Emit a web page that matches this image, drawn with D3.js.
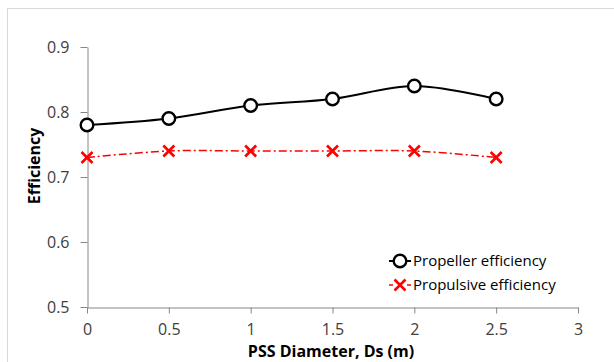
<!DOCTYPE html>
<html><head><meta charset="utf-8">
<script src="https://cdn.jsdelivr.net/npm/d3@7"></script>
<style>
html,body{margin:0;padding:0;background:#fff;}
svg{display:block;font-family:"Open Sans","Liberation Sans",sans-serif;}
</style></head>
<body>
<svg id="c" width="614" height="362"></svg>
<script>
const diameters = [0, 0.5, 1, 1.5, 2, 2.5];
const propellerEff = [0.78, 0.79, 0.81, 0.82, 0.84, 0.82];
const propulsiveEff = [0.73, 0.74, 0.74, 0.74, 0.74, 0.73];
const xTicks = [0, 0.5, 1, 1.5, 2, 2.5, 3];
const yTicks = [0.5, 0.6, 0.7, 0.8, 0.9];
const seriesNames = ["Propeller efficiency", "Propulsive efficiency"];

const svg = d3.select("#c");
// chart frame
svg.append("rect").attr("x", 7.5).attr("y", 8.5).attr("width", 640).attr("height", 400)
  .attr("fill", "none").attr("stroke", "#d9d9d9").attr("stroke-width", 1);

const x = d3.scaleLinear().domain([0, 3]).range([87, 578]);
const y = d3.scaleLinear().domain([0.5, 0.9]).range([307, 47]);

const axisColor = "#868686";
const textColor = "#404040";

const xAxis = svg.append("g").attr("transform", "translate(0,307.5)")
  .call(d3.axisBottom(x).tickValues(xTicks).tickSize(6).tickSizeOuter(0).tickFormat(d3.format("")));
const yAxis = svg.append("g").attr("transform", "translate(87.5,0)")
  .call(d3.axisLeft(y).tickValues(yTicks).tickSize(7).tickSizeOuter(0).tickFormat(d3.format(".1f")));
[xAxis, yAxis].forEach(g => {
  g.select(".domain").attr("stroke", axisColor);
  g.selectAll(".tick line").attr("stroke", axisColor);
  g.selectAll(".tick text").attr("fill", textColor).attr("font-size", 16)
    .attr("font-family", "'Open Sans','Liberation Sans',sans-serif");
});
xAxis.selectAll(".tick text").attr("dy", "1.15em");
yAxis.selectAll(".tick text").attr("x", -18);

// axis titles
svg.append("text").attr("x", 331).attr("y", 357).attr("text-anchor", "middle")
  .attr("font-weight", "bold").attr("font-size", 16).attr("fill", "#000")
  .text("PSS Diameter, Ds (m)");
svg.append("text").attr("transform", "translate(40,166) rotate(-90)").attr("text-anchor", "middle")
  .attr("font-weight", "bold").attr("font-size", 16).attr("fill", "#000")
  .text("Efficiency");

const line = d3.line().x(d => x(d[0])).y(d => y(d[1])).curve(d3.curveCardinal.tension(0));
const propData = diameters.map((d, i) => [d, propellerEff[i]]);
const pulsData = diameters.map((d, i) => [d, propulsiveEff[i]]);

svg.append("path").datum(propData).attr("d", line).attr("fill", "none")
  .attr("stroke", "#000").attr("stroke-width", 2);
svg.append("path").datum(pulsData).attr("d", line).attr("fill", "none")
  .attr("stroke", "#ff0000").attr("stroke-width", 1.5).attr("stroke-dasharray", "8,3,2,3");

function circleMarker(g, cx, cy) {
  g.append("circle").attr("cx", cx).attr("cy", cy).attr("r", 6.3)
    .attr("fill", "#fff").attr("stroke", "#000").attr("stroke-width", 2.4);
}
function crossMarker(g, cx, cy) {
  const s = 5.5;
  g.append("path").attr("d", `M${cx - s},${cy - s}L${cx + s},${cy + s}M${cx - s},${cy + s}L${cx + s},${cy - s}`)
    .attr("stroke", "#ff0000").attr("stroke-width", 2.6).attr("fill", "none");
}
const mk = svg.append("g");
propData.forEach(d => circleMarker(mk, x(d[0]), y(d[1])));
pulsData.forEach(d => crossMarker(mk, x(d[0]), y(d[1])));

// legend
const lg = svg.append("g");
const legendY = [261, 285];
lg.append("line").attr("x1", 389).attr("x2", 411).attr("y1", legendY[0]).attr("y2", legendY[0])
  .attr("stroke", "#000").attr("stroke-width", 2);
circleMarker(lg, 400, legendY[0]);
lg.append("line").attr("x1", 389).attr("x2", 411).attr("y1", legendY[1]).attr("y2", legendY[1])
  .attr("stroke", "#ff0000").attr("stroke-width", 1.5).attr("stroke-dasharray", "4,14,4");
crossMarker(lg, 400, legendY[1]);
seriesNames.forEach((n, i) => {
  lg.append("text").attr("x", 413).attr("y", legendY[i]).attr("dy", "0.35em")
    .attr("font-size", 15).attr("fill", "#000").text(n);
});
</script>
</body></html>
